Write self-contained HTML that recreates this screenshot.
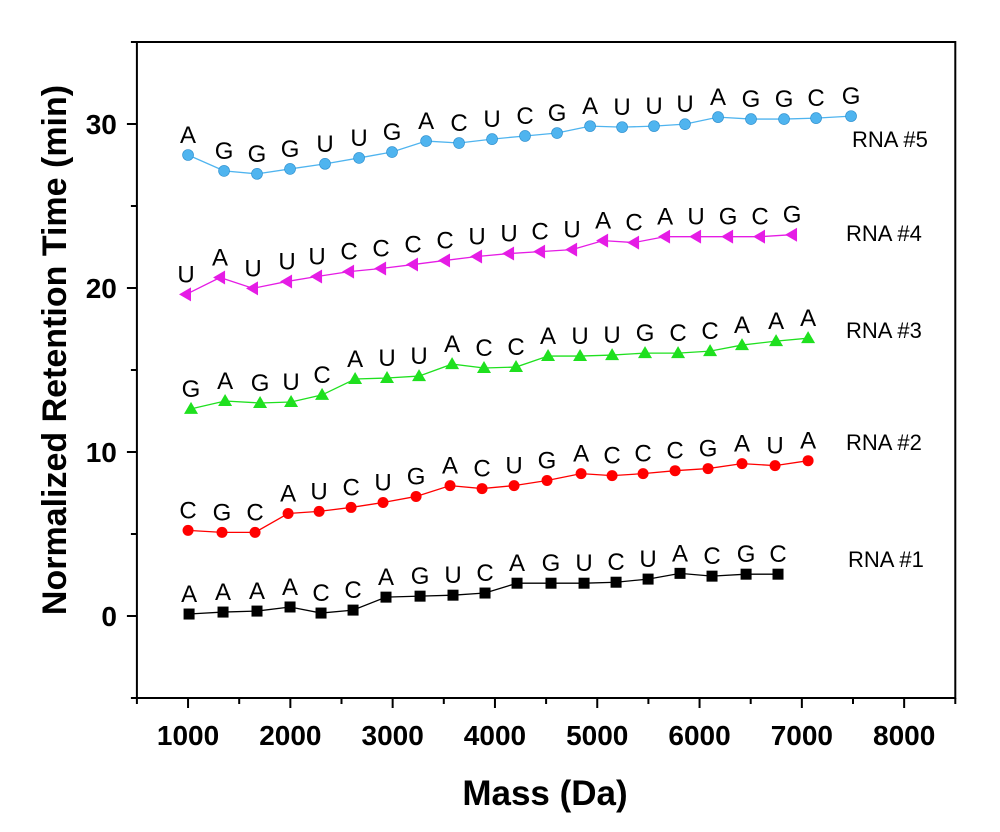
<!DOCTYPE html>
<html><head><meta charset="utf-8"><style>
body{margin:0;background:#fff}
svg{display:block;font-family:"Liberation Sans",Arial,sans-serif}
</style></head><body>
<svg id="chart" width="1000" height="832" viewBox="0 0 1000 832" xmlns="http://www.w3.org/2000/svg"></svg>
<script>
const xTicks=[1000,2000,3000,4000,5000,6000,7000,8000];
const yTicks=[0,10,20,30];
const m1=[1010,1342,1674,1997,2300,2613,2935,3268,3590,3903,4216,4548,4871,5184,5497,5809,6122,6455,6767];
const r1=[0.12,0.24,0.3,0.55,0.18,0.36,1.15,1.21,1.27,1.4,2.0,2.0,2.0,2.06,2.25,2.6,2.43,2.55,2.55];
const s1="AAAACCAGUCAGUCUACGC".split("");
const m2=[1000,1332,1655,1978,2281,2594,2906,3229,3561,3874,4187,4509,4842,5145,5448,5761,6083,6415,6738,7061];
const r2=[5.22,5.1,5.1,6.25,6.38,6.62,6.92,7.29,7.95,7.77,7.95,8.26,8.68,8.56,8.68,8.86,8.99,9.29,9.17,9.47];
const s2="CGCAUCUGACUGACCCGAUA".split("");
const m3=[1029,1362,1704,2007,2310,2633,2945,3258,3581,3893,4206,4519,4832,5145,5467,5790,6103,6415,6748,7061];
const r3=[12.63,13.11,12.99,13.05,13.48,14.45,14.51,14.63,15.36,15.12,15.18,15.85,15.85,15.91,16.03,16.03,16.15,16.52,16.76,16.94];
const s3="GAGUCAUUACCAUUGCCAAA".split("");
const m4=[980,1313,1635,1968,2261,2574,2887,3199,3512,3825,4138,4441,4754,5057,5360,5663,5966,6279,6591,6904];
const r4=[19.61,20.64,19.98,20.4,20.7,21.0,21.19,21.43,21.68,21.92,22.1,22.22,22.34,22.89,22.77,23.13,23.13,23.13,23.13,23.25];
const s4="UAUUUCCCCUUCUACAUGCG".split("");
const m5=[1000,1352,1674,1997,2339,2672,2994,3327,3649,3972,4294,4607,4930,5243,5555,5858,6181,6503,6826,7139,7481];
const r5=[28.11,27.14,26.96,27.26,27.57,27.93,28.29,28.96,28.84,29.08,29.27,29.45,29.87,29.81,29.87,29.99,30.42,30.3,30.3,30.36,30.48];
const s5="AGGGUUGACUCGAUUUAGGCG".split("");
const seriesNames=["RNA #1","RNA #2","RNA #3","RNA #4","RNA #5"];

const NS="http://www.w3.org/2000/svg";
const svg=document.getElementById('chart');
const X0=136.9,X1=955.3,Y0=698,Y1=42;
const xs=v=>X0+(v-500)/(8500-500)*(X1-X0);
const ys=v=>Y0-(v+5)/40*(Y0-Y1);
function mk(t,a,txt){const e=document.createElementNS(NS,t);for(const k in a)e.setAttribute(k,a[k]);if(txt!==undefined)e.textContent=txt;svg.appendChild(e);return e;}

let e=mk('rect',{x:X0,y:Y1,width:X1-X0,height:Y0-Y1,fill:'none',stroke:'#000','stroke-width':2});


for(let v=500;v<=8500;v+=500){
 const major=v%1000===0;
 e=mk('line',{x1:xs(v),x2:xs(v),y1:Y0,y2:Y0+(major?10:6),stroke:'#000','stroke-width':2});
 
 
}
xTicks.forEach(v=>{
 e=mk('text',{x:xs(v),y:Y0+47,'text-anchor':'middle','font-size':28,'font-weight':'bold'},v);
 
 
});
for(let v=-5;v<=35;v+=5){
 const major=v%10===0;
 e=mk('line',{x1:X0,x2:X0-(major?10:6),y1:ys(v),y2:ys(v),stroke:'#000','stroke-width':2});
 
 
}
yTicks.forEach(v=>{
 e=mk('text',{x:X0-20,y:ys(v)+10,'text-anchor':'end','font-size':28,'font-weight':'bold'},v);
 
 
});
e=mk('text',{x:545,y:805,'text-anchor':'middle','font-size':35,'font-weight':'bold'},'Mass (Da)');


e=mk('text',{x:0,y:0,'text-anchor':'middle','font-size':34,'font-weight':'bold',transform:'translate(66,350) rotate(-90)'},'Normalized Retention Time (min)');



const all=[[m1,r1,s1,'#000','square'],[m2,r2,s2,'#f00','circle'],[m3,r3,s3,'#1fe01f','up'],[m4,r4,s4,'#e51ce5','left'],[m5,r5,s5,'#4fb4ef','ball']];
const labelPos=[[848,567],[846,450],[846,338],[846,241],[852,147]];
all.forEach((s,i)=>{
 const [m,r,q,c,shape]=s;
 e=mk('polyline',{points:m.map((v,j)=>xs(v)+','+ys(r[j])).join(' '),fill:'none',stroke:c,'stroke-width':1.3});
 
 
 m.forEach((v,j)=>{
  const x=xs(v),y=ys(r[j]);
  if(shape==='square')e=mk('rect',{x:x-5.5,y:y-5.5,width:11,height:11,fill:c});
  else if(shape==='circle')e=mk('circle',{cx:x,cy:y,r:5.5,fill:c});
  else if(shape==='ball')e=mk('circle',{cx:x,cy:y,r:5.5,fill:c,stroke:'#2a8ccc','stroke-width':0.6});
  else if(shape==='up')e=mk('polygon',{points:`${x},${y-7} ${x-7},${y+5} ${x+7},${y+5}`,fill:c});
  else e=mk('polygon',{points:`${x-7},${y} ${x+5},${y-7} ${x+5},${y+7}`,fill:c});
  
  
  e=mk('text',{x:x,y:y-12,'text-anchor':'middle','font-size':24},q[j]);
  
  
 });
 e=mk('text',{x:labelPos[i][0],y:labelPos[i][1],'font-size':22},seriesNames[i]);
 
 
});
</script>
</body></html>
